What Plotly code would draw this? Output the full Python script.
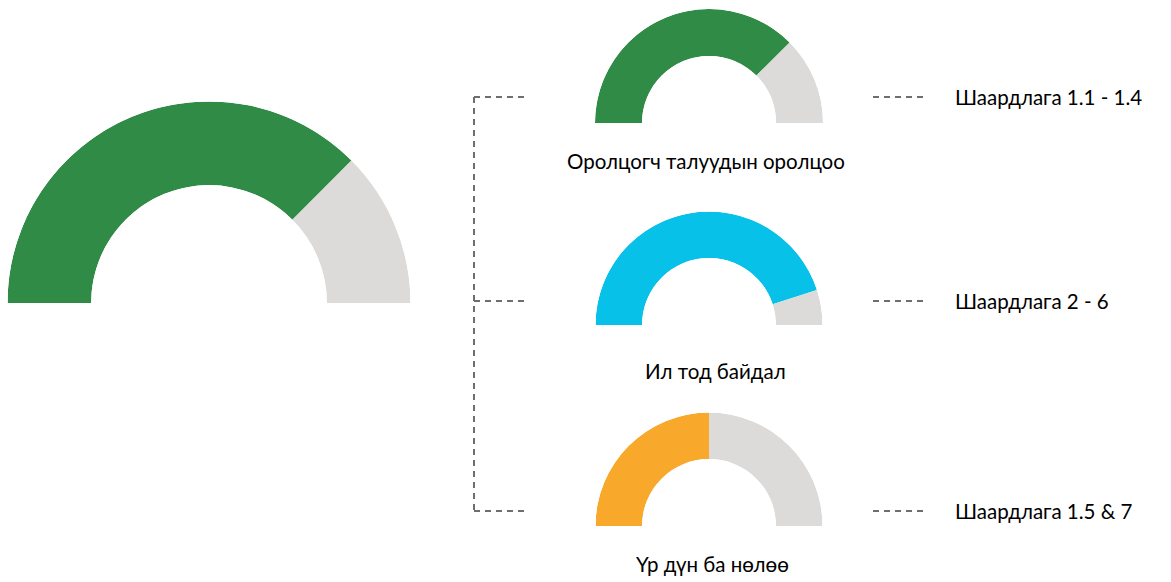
import plotly.graph_objects as go

W, H = 1171, 582

# ---- data ----
gauge_names = ["Нийт", "Оролцогч талуудын оролцоо", "Ил тод байдал", "Үр дүн ба нөлөө"]
gauge_values = [75, 75, 90, 50]          # percent filled
gauge_colors = ["#2f8b45", "#2f8b45", "#08c1e8", "#f8a82a"]
requirement_labels = ["Шаардлага 1.1 - 1.4", "Шаардлага 2 - 6", "Шаардлага 1.5 & 7"]
rest_color = "#dcdbda"

# ---- layout geometry (pixels from top-left) ----
centers = [(209, 303), (709, 123), (709, 325), (709, 526)]
radii = [201.5, 114, 113.5, 113.5]
holes = [0.585, 0.588, 0.59, 0.59]
caption_pos = [None, (706, 161), (715, 371), (712, 564)]
req_y = [97, 301, 511]

fig = go.Figure()
layout = dict(
    width=W, height=H, margin=dict(l=0, r=0, t=0, b=0),
    paper_bgcolor="white", plot_bgcolor="white", showlegend=False,
)

for i, (name, v, col) in enumerate(zip(gauge_names, gauge_values, gauge_colors)):
    pid = "polar" if i == 0 else f"polar{i+1}"
    cx, cy = centers[i]
    r = radii[i]
    filled = 180 * v / 100
    fig.add_trace(go.Barpolar(
        r=[1, 1],
        theta=[180 - filled / 2, (180 - filled) / 2],
        width=[filled, 180 - filled],
        marker=dict(color=[col, rest_color], line=dict(width=0)),
        subplot=pid, hoverinfo="skip", name=name,
    ))
    layout[pid] = dict(
        domain=dict(x=[(cx - r) / W, (cx + r) / W], y=[(H - cy) / H, (H - cy + r) / H]),
        sector=[0, 180], hole=holes[i], bgcolor="rgba(0,0,0,0)",
        radialaxis=dict(visible=False, range=[0, 1]),
        angularaxis=dict(visible=False),
        bargap=0,
    )

fig.update_layout(**layout)

font = dict(family="Lato, Open Sans, sans-serif", size=20.5, color="#000000")
for i in range(1, 4):
    x, y = caption_pos[i]
    fig.add_annotation(x=x / W, y=1 - y / H, xref="paper", yref="paper", text=gauge_names[i],
                       showarrow=False, xanchor="center", yanchor="middle", font=font)
for lbl, y in zip(requirement_labels, req_y):
    fig.add_annotation(x=953 / W, y=1 - y / H, xref="paper", yref="paper", text=lbl,
                       showarrow=False, xanchor="left", yanchor="middle", font=font)

line = dict(color="#6e6e6e", width=2, dash="6px,5px")
fig.add_shape(type="line", xref="paper", yref="paper", x0=474 / W, x1=474 / W,
              y0=1 - req_y[0] / H, y1=1 - req_y[2] / H, line=line)
for y in req_y:
    fig.add_shape(type="line", xref="paper", yref="paper", x0=474 / W, x1=528 / W,
                  y0=1 - y / H, y1=1 - y / H, line=line)
    fig.add_shape(type="line", xref="paper", yref="paper", x0=873 / W, x1=926 / W,
                  y0=1 - y / H, y1=1 - y / H, line=line)

fig.write_html("out.html", config={"displayModeBar": False},
               post_script="document.body.style.margin='0';document.body.style.overflow='hidden';")
